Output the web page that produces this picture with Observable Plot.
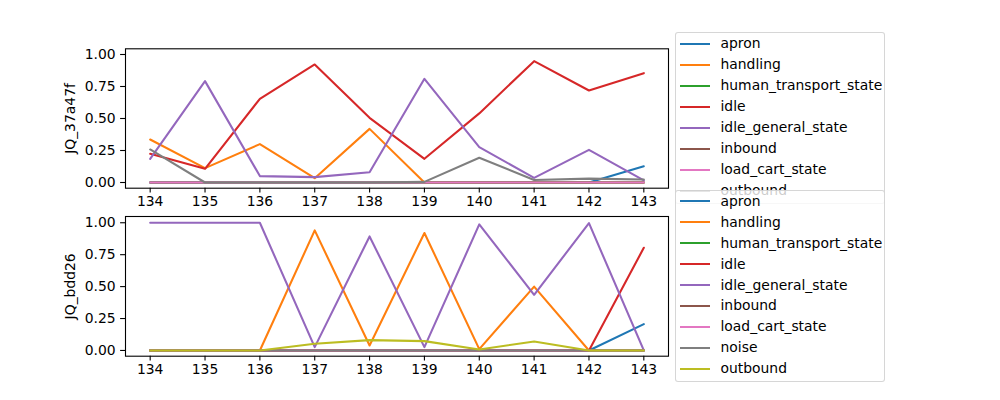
<!DOCTYPE html>
<html>
<head>
<meta charset="utf-8">
<script src="https://cdn.jsdelivr.net/npm/d3@7"></script>
<script src="https://cdn.jsdelivr.net/npm/@observablehq/plot@0.6"></script>
<style>
  html, body { margin: 0; padding: 0; background: white; }
  #wrap { position: relative; width: 1000px; height: 400px; overflow: hidden; background: white; font-family: "DejaVu Sans", sans-serif; }
  #wrap svg { position: absolute; left: 0; top: 0; }
  .legend { position: absolute; left: 674.5px; width: 210px; box-sizing: border-box;
            background: rgba(255,255,255,0.8); border: 1px solid rgba(204,204,204,0.8); border-radius: 3px; }
  .row { position: absolute; left: 0; height: 21px; line-height: 21px; font-size: 13.9px; color: black; white-space: nowrap; }
  .sw { position: absolute; left: 4px; top: 9.5px; width: 30px; height: 2px; }
  .lab { position: absolute; left: 45px; top: 0; }
</style>
</head>
<body>
<div id="wrap"></div>
<script>
const xs = [134, 135, 136, 137, 138, 139, 140, 141, 142, 143];
const yTicks = [0, 0.25, 0.5, 0.75, 1.0];

const topName = "JQ_37a47f";
const topSeries = ["apron", "handling", "human_transport_state", "idle", "idle_general_state", "inbound", "load_cart_state", "outbound"];
const top_apron                 = [0, 0, 0, 0, 0, 0, 0, 0, 0, 0.127];
const top_handling              = [0.336, 0.112, 0.300, 0.034, 0.419, 0, 0, 0, 0, 0];
const top_human_transport_state = [0, 0, 0, 0, 0, 0, 0, 0, 0, 0];
const top_idle                  = [0.224, 0.107, 0.654, 0.922, 0.505, 0.185, 0.540, 0.948, 0.719, 0.854];
const top_idle_general_state    = [0.185, 0.792, 0.050, 0.042, 0.080, 0.810, 0.276, 0.036, 0.255, 0.016];
const top_inbound               = [0, 0, 0, 0, 0, 0, 0, 0, 0, 0];
const top_load_cart_state       = [0, 0, 0, 0, 0, 0, 0, 0, 0, 0];
const top_outbound              = [0.258, 0, 0, 0, 0, 0.005, 0.193, 0.020, 0.030, 0.023];

const botName = "JQ_bdd26";
const botSeries = ["apron", "handling", "human_transport_state", "idle", "idle_general_state", "inbound", "load_cart_state", "noise", "outbound"];
const bot_apron                 = [0, 0, 0, 0, 0, 0, 0, 0, 0, 0.206];
const bot_handling              = [0, 0, 0, 0.940, 0.039, 0.920, 0.010, 0.500, 0, 0];
const bot_human_transport_state = [0, 0, 0, 0, 0, 0, 0, 0, 0, 0];
const bot_idle                  = [0, 0, 0, 0, 0, 0, 0, 0, 0, 0.804];
const bot_idle_general_state    = [1.0, 1.0, 1.0, 0.026, 0.893, 0.026, 0.987, 0.436, 0.997, 0];
const bot_inbound               = [0, 0, 0, 0, 0, 0, 0, 0, 0, 0];
const bot_load_cart_state       = [0, 0, 0, 0, 0, 0, 0, 0, 0, 0];
const bot_noise                 = [0, 0, 0, 0, 0, 0, 0, 0, 0, 0];
const bot_outbound              = [0, 0, 0, 0.052, 0.081, 0.073, 0.008, 0.070, 0, 0];

const palette = ["#1f77b4", "#ff7f0e", "#2ca02c", "#d62728", "#9467bd", "#8c564b", "#e377c2", "#7f7f7f", "#bcbd22"];

const topValues = [top_apron, top_handling, top_human_transport_state, top_idle, top_idle_general_state, top_inbound, top_load_cart_state, top_outbound];
const botValues = [bot_apron, bot_handling, bot_human_transport_state, bot_idle, bot_idle_general_state, bot_inbound, bot_load_cart_state, bot_noise, bot_outbound];

function toRows(names, values) {
  const rows = [];
  names.forEach((s, i) => values[i].forEach((v, j) => rows.push({series: s, x: xs[j], y: v})));
  return rows;
}

function makePlot(names, values, title, mTop, mBottom, yDomain) {
  return Plot.plot({
    width: 1000, height: 400,
    marginLeft: 125, marginRight: 332, marginTop: mTop, marginBottom: mBottom,
    style: {fontFamily: "DejaVu Sans", fontSize: "13.9px", color: "black", background: "transparent", overflow: "visible"},
    x: {domain: [133.55, 143.45]},
    y: {domain: yDomain},
    color: {domain: names, range: palette.slice(0, names.length)},
    marks: [
      Plot.axisX({ticks: xs, tickFormat: d => String(d), tickSize: 4.9, tickPadding: 3.5, label: null, stroke: "black", strokeWidth: 1.1, fill: "black"}),
      Plot.axisY({ticks: yTicks, tickFormat: d3.format(".2f"), tickSize: 4.9, tickPadding: 4.9, label: null, stroke: "black", strokeWidth: 1.1, fill: "black"}),
      Plot.line(toRows(names, values), {x: "x", y: "y", z: "series", stroke: "series", strokeWidth: 2.08}),
      Plot.frame({stroke: "black", strokeWidth: 1.1}),
      Plot.text([title], {frameAnchor: "left", textAnchor: "middle", lineAnchor: "middle", dx: -55, rotate: -90, text: d => d, fill: "black", fontSize: 13.9})
    ]
  });
}

const wrap = document.getElementById("wrap");
wrap.appendChild(makePlot(topSeries, topValues, topName, 48.3, 400 - 187.7, [-0.0445, 1.0445]));
wrap.appendChild(makePlot(botSeries, botValues, botName, 216, 400 - 355.7, [-0.045, 1.049]));

function makeLegend(names, top) {
  const box = document.createElement("div");
  box.className = "legend";
  box.style.top = top + "px";
  box.style.height = (names.length * 20.95 + 4) + "px";
  names.forEach((n, i) => {
    const r = document.createElement("div");
    r.className = "row";
    r.style.top = (0.2 + i * 20.95) + "px";
    const sw = document.createElement("div");
    sw.className = "sw";
    sw.style.background = palette[i];
    const t = document.createElement("span");
    t.className = "lab";
    t.textContent = n;
    r.appendChild(sw); r.appendChild(t);
    box.appendChild(r);
  });
  wrap.appendChild(box);
}
makeLegend(topSeries, 32.3);
makeLegend(botSeries, 189.5);
</script>
</body>
</html>
